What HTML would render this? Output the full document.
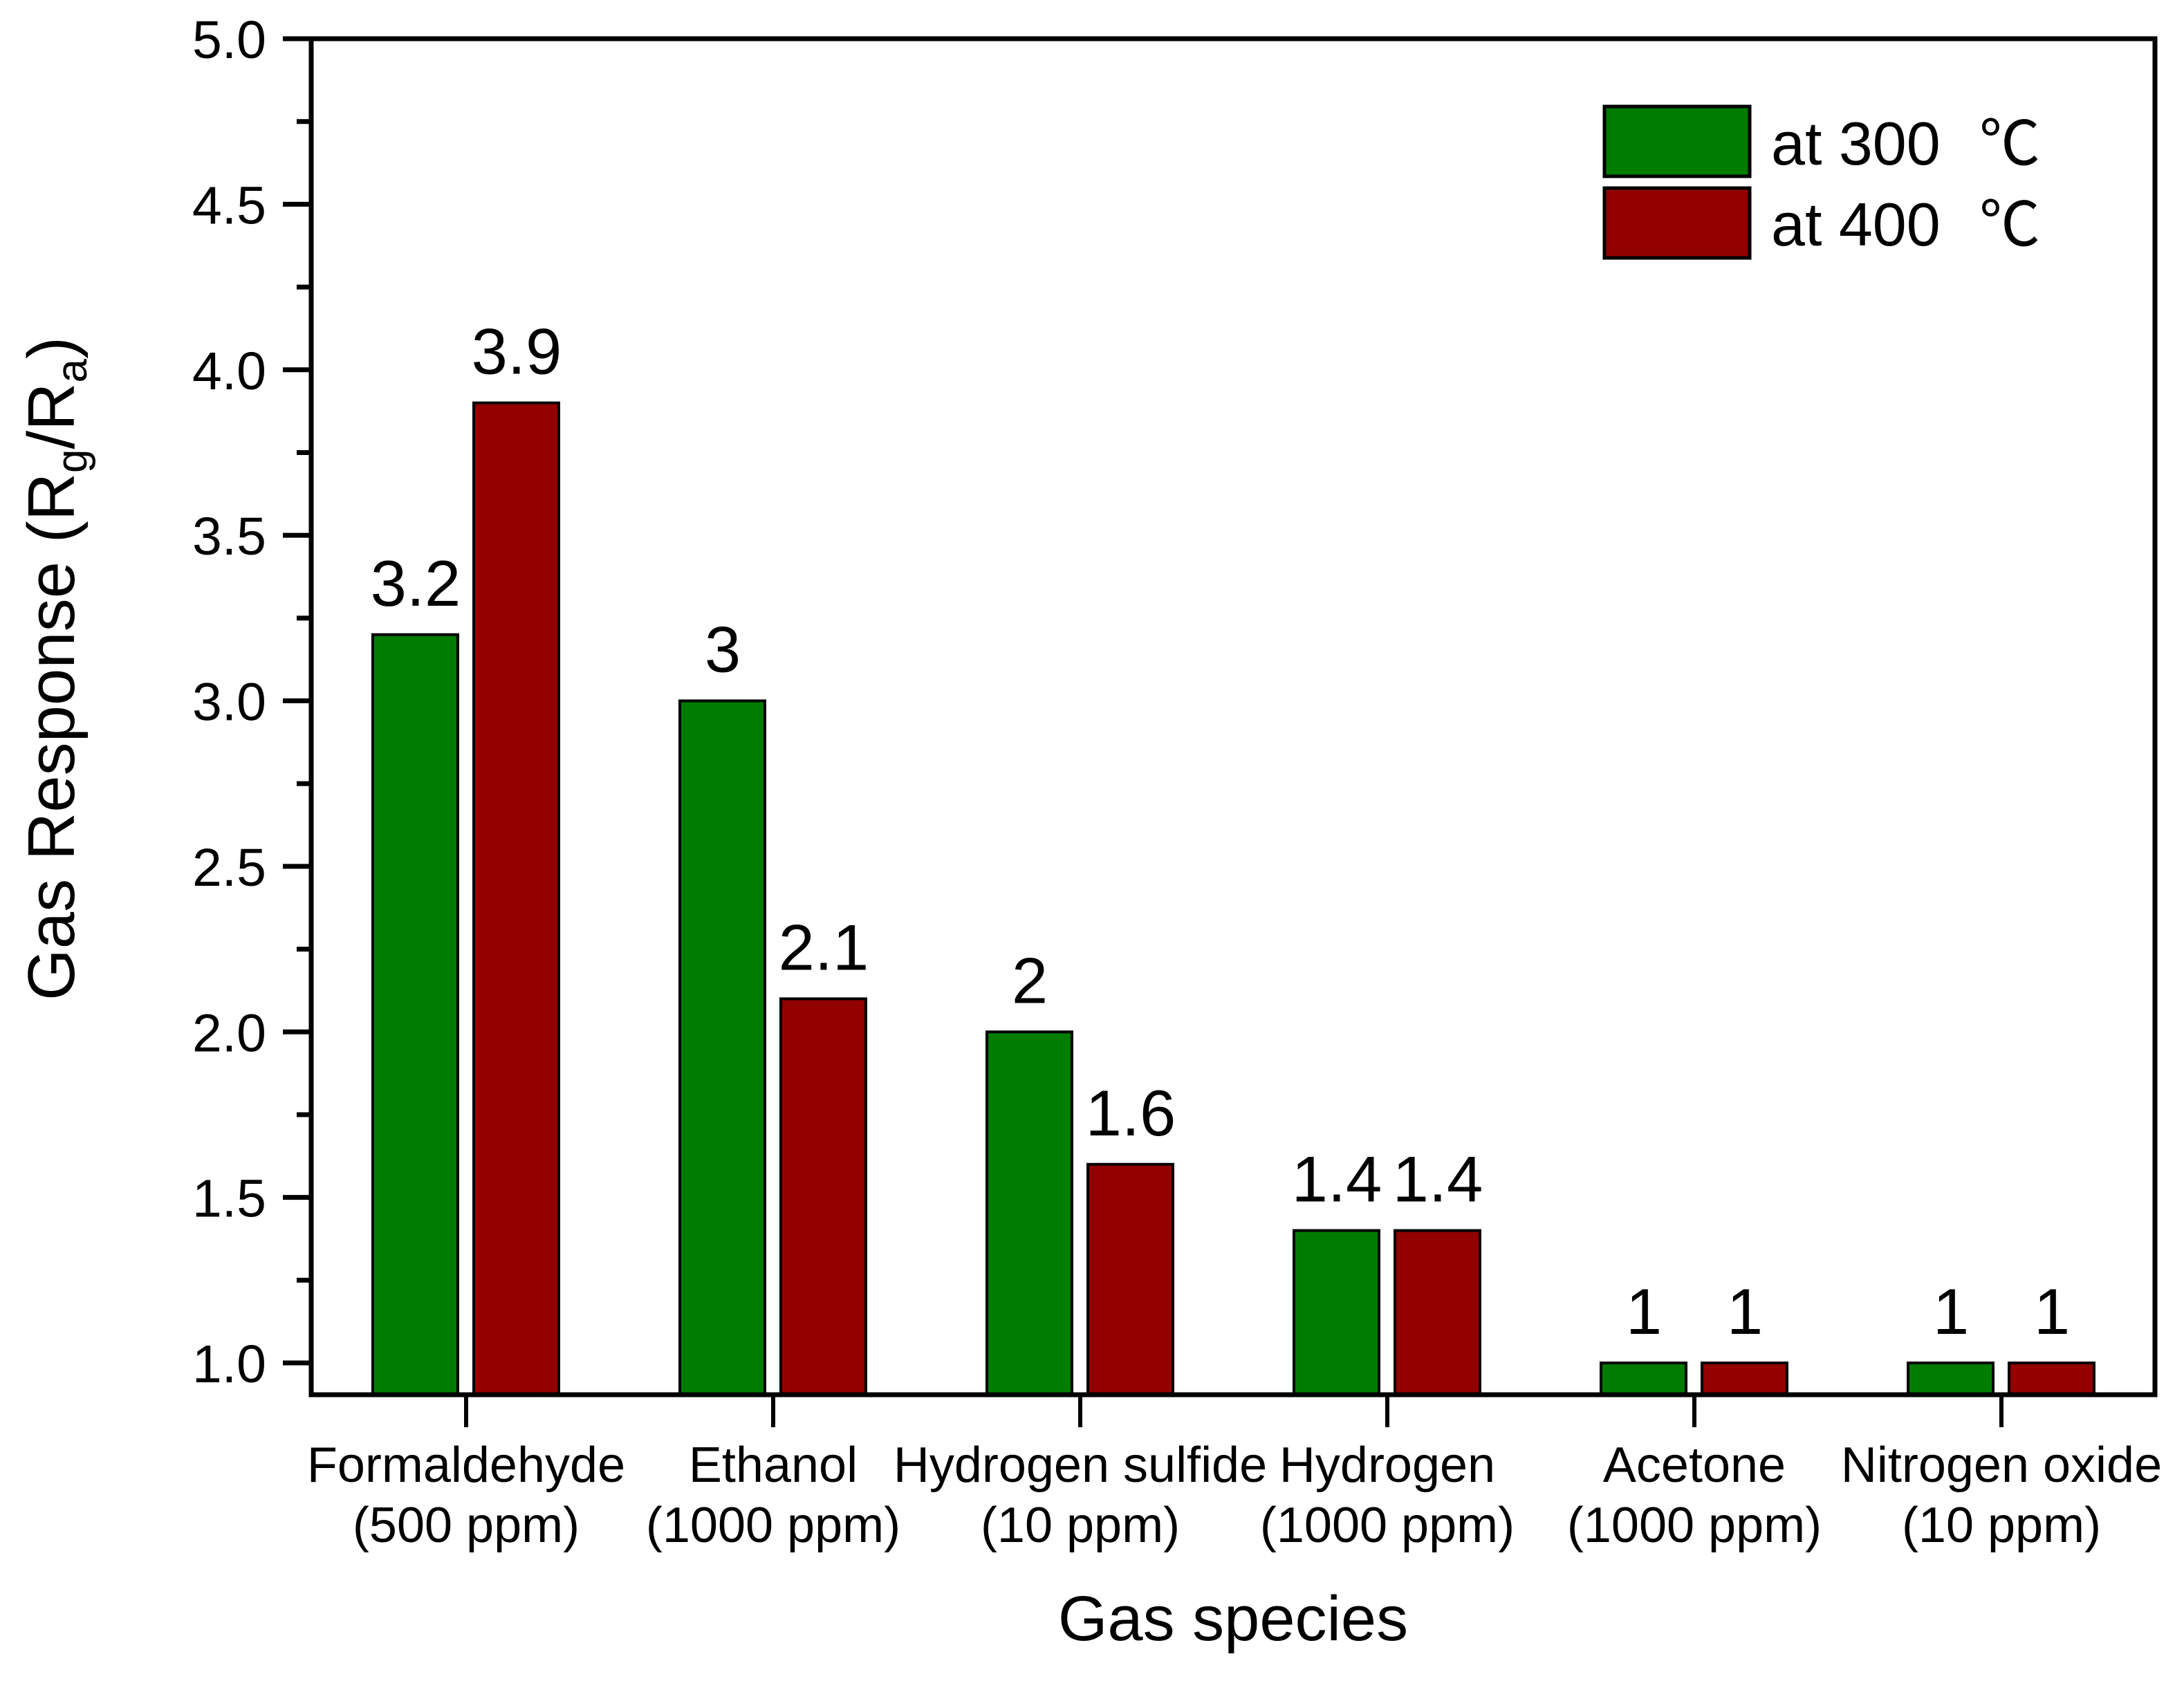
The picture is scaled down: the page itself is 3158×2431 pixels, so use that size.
<!DOCTYPE html>
<html><head><meta charset="utf-8"><style>
html,body{margin:0;padding:0;background:#fff;}
svg{display:block;font-family:"Liberation Sans","Noto Sans CJK SC",sans-serif;}
</style></head><body>
<svg id="chart" width="3158" height="2431" viewBox="0 0 3158 2431" xmlns="http://www.w3.org/2000/svg">
<g id="plot"></g>
</svg>
<script>
const categories = ["Formaldehyde|(500 ppm)","Ethanol|(1000 ppm)","Hydrogen sulfide|(10 ppm)","Hydrogen|(1000 ppm)","Acetone|(1000 ppm)","Nitrogen oxide|(10 ppm)"];
const series300 = [3.2, 3, 2, 1.4, 1, 1];
const series400 = [3.9, 2.1, 1.6, 1.4, 1, 1];
const labels300 = ["3.2","3","2","1.4","1","1"];
const labels400 = ["3.9","2.1","1.6","1.4","1","1"];
const yTicks = [1.0,1.5,2.0,2.5,3.0,3.5,4.0,4.5,5.0];
const yTickLabels = ["1.0","1.5","2.0","2.5","3.0","3.5","4.0","4.5","5.0"];

const NS="http://www.w3.org/2000/svg";
const L=450,R=3116,T=56,B=2017;
const yMin=0.904,yMax=5.0;
function y(v){return B-(v-yMin)/(yMax-yMin)*(B-T);}
function xc(i){return 674+i*444;}
const svg=document.getElementById('plot');
function el(tag,attrs,text){const e=document.createElementNS(NS,tag);for(const k in attrs)e.setAttribute(k,attrs[k]);if(text!==undefined)e.textContent=text;svg.appendChild(e);return e;}

for(let i=0;i<categories.length;i++){
  const c=xc(i);
  const g=el('rect',{x:c-135,y:y(series300[i]),width:123,height:B-y(series300[i]),fill:'#007c00',stroke:'#000','stroke-width':4});
  
  
  const r=el('rect',{x:c+11,y:y(series400[i]),width:123,height:B-y(series400[i]),fill:'#930000',stroke:'#000','stroke-width':4});
  
  
  const t1=el('text',{x:c-73,y:y(series300[i])-42,'font-size':94,'text-anchor':'middle'},labels300[i]);
  
  
  const t2=el('text',{x:c+73,y:y(series400[i])-42,'font-size':94,'text-anchor':'middle'},labels400[i]);
  
  
  const tk=el('line',{x1:c,x2:c,y1:B,y2:2064,stroke:'#000','stroke-width':6});
  
  
  const parts=categories[i].split('|');
  const l1=el('text',{x:c,y:2143,'font-size':72,'text-anchor':'middle'},parts[0]);
  
  
  const l2=el('text',{x:c,y:2230,'font-size':72,'text-anchor':'middle'},parts[1]);
  
  
}
for(let i=0;i<yTicks.length;i++){
  const yy=y(yTicks[i]);
  const t=el('line',{x1:409,x2:L,y1:yy,y2:yy,stroke:'#000','stroke-width':7});
  
  
  const lb=el('text',{x:385,y:yy+28,'font-size':77,'text-anchor':'end'},yTickLabels[i]);
  
  
  if(i<yTicks.length-1){
    const ym=y(yTicks[i]+0.25);
    const m=el('line',{x1:429,x2:L,y1:ym,y2:ym,stroke:'#000','stroke-width':7});
    
    
  }
}
const fr=el('rect',{x:L,y:T,width:R-L,height:B-T,fill:'none',stroke:'#000','stroke-width':7});


const lg1=el('rect',{x:2320,y:154,width:210,height:101,fill:'#007c00',stroke:'#000','stroke-width':5});


const lg2=el('rect',{x:2320,y:272,width:210,height:101,fill:'#930000',stroke:'#000','stroke-width':5});


const lt1=el('text',{x:2561,y:238,'font-size':88},'at 300');


const lc1=el('text',{x:2862,y:238,'font-size':88},'℃');


const lt2=el('text',{x:2561,y:355,'font-size':88},'at 400');


const lc2=el('text',{x:2862,y:355,'font-size':88},'℃');


const xt=el('text',{x:1783,y:2372,'font-size':92,'text-anchor':'middle'},'Gas species');


const yt=document.createElementNS(NS,'text');
yt.setAttribute('transform','translate(107,967) rotate(-90)');
yt.setAttribute('text-anchor','middle');
yt.setAttribute('font-size','96');
yt.innerHTML='Gas Response (R<tspan font-size="62" dy="18">g</tspan><tspan dy="-18">/R</tspan><tspan font-size="62" dy="18">a</tspan><tspan dy="-18">)</tspan>';


svg.appendChild(yt);
</script>
</body></html>
